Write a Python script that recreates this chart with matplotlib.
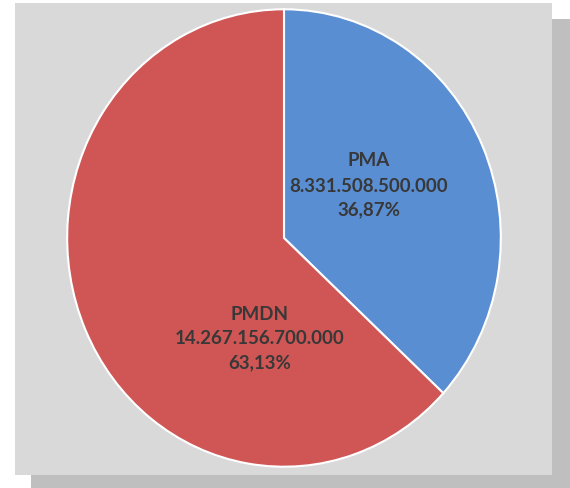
import matplotlib
matplotlib.use("Agg")
import matplotlib.pyplot as plt
from matplotlib.patches import Rectangle

labels = ["PMA", "PMDN"]
values = [8331508500000, 14267156700000]
value_labels = ["8.331.508.500.000", "14.267.156.700.000"]
percent_labels = ["36,87%", "63,13%"]
colors = ["#5a8ed3", "#cf5654"]

W, H = 570, 489
fig = plt.figure(figsize=(W / 100, H / 100), dpi=100)
fig.patch.set_facecolor("white")

def px_rect(x0, y0, x1, y1, color, z):
    r = Rectangle((x0 / W, 1 - y1 / H), (x1 - x0) / W, (y1 - y0) / H,
                  transform=fig.transFigure, facecolor=color, edgecolor="none", zorder=z)
    fig.patches.append(r)

px_rect(31, 20, 570, 489, "#bfbfbf", -2)
px_rect(15, 4, 552, 476, "#d9d9d9", -1)

cx, cy, rx, ry = 284, 239, 219, 231
ax = fig.add_axes([(cx - rx) / W, 1 - (cy + ry) / H, 2 * rx / W, 2 * ry / H])
ax.set_zorder(2)
ax.set_facecolor("none")
wedges, _ = ax.pie(values, colors=colors, startangle=90, counterclock=False,
                   wedgeprops=dict(edgecolor="white", linewidth=1.5))
ax.set_aspect("auto")
ax.set_xlim(-1.01, 1.01)
ax.set_ylim(-1.01, 1.01)
ax.axis("off")

def place(px, py, text):
    fig.text(px / W, 1 - py / H, text, ha="center", va="center",
             fontsize=13.5, fontweight="bold", color="#383838",
             family=["Lato", "DejaVu Sans"], zorder=5)

label_pos = [(369, [161, 186, 210]), (260, [314, 339, 363])]
for i, (x, ys) in enumerate(label_pos):
    place(x, ys[0], labels[i])
    place(x, ys[1], value_labels[i])
    place(x, ys[2], percent_labels[i])

fig.savefig("out.png", dpi=100)
